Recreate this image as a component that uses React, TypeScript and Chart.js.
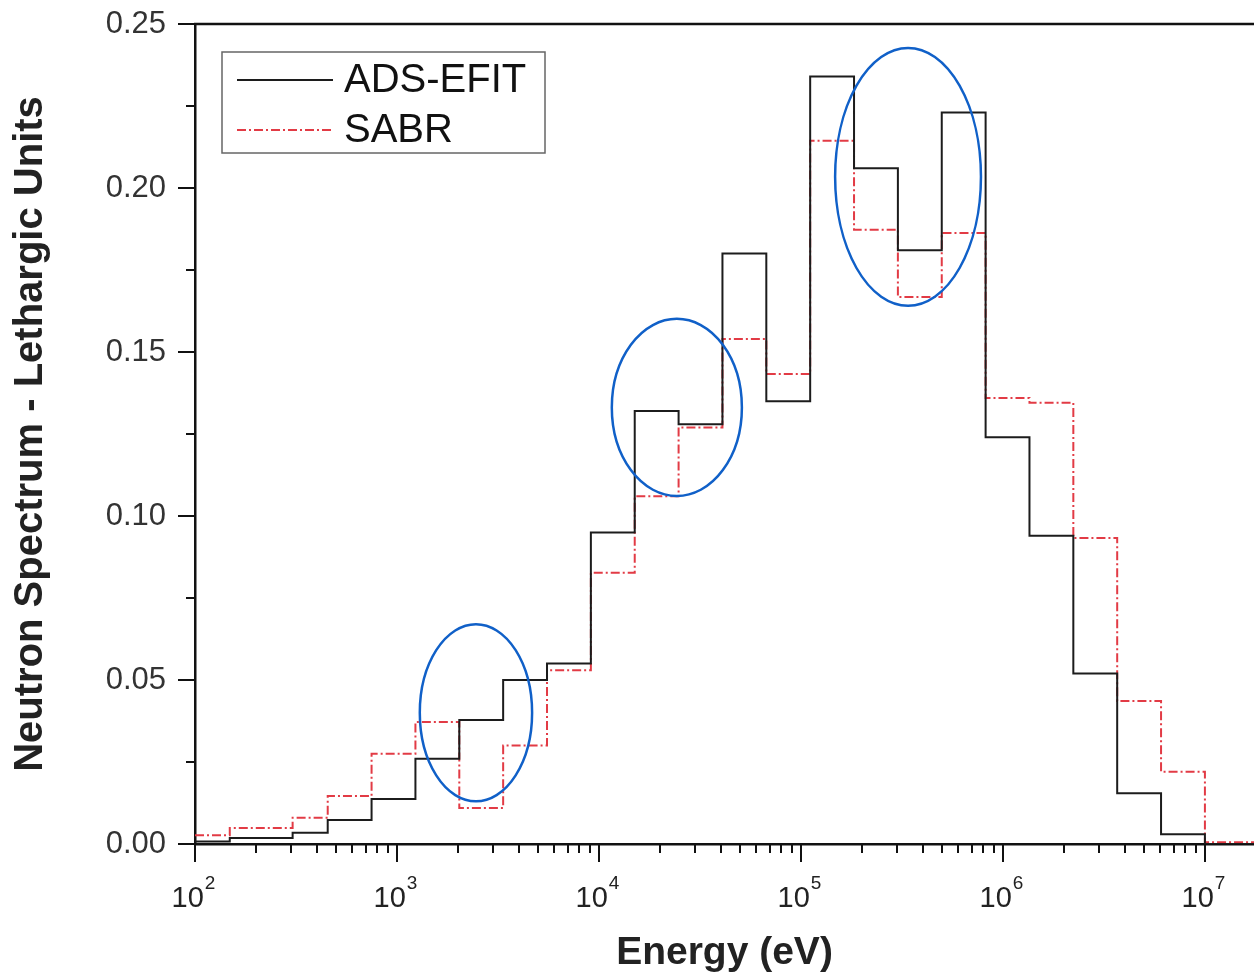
import React, { useEffect, useRef } from "react";
import { Chart, registerables } from "chart.js";

Chart.register(...registerables);

// Group lower boundaries (eV), clipped at the axis minimum; last value is the upper edge
const binEdges = [
  100, 148.63, 304.33, 454.0, 748.52, 1234.1, 2034.7, 3354.6, 5530.8, 9118.8,
  15034, 24788, 40868, 67379, 111090, 183160, 301970, 497870, 820850,
  1353400, 2231300, 3678800, 6065300, 10000000, 19640000,
];

const adsEfit = [
  0.0008, 0.0018, 0.0034, 0.0073, 0.0137, 0.026, 0.0378, 0.050, 0.055, 0.095,
  0.132, 0.128, 0.180, 0.135, 0.234, 0.206, 0.181, 0.223, 0.124, 0.094,
  0.052, 0.0155, 0.003, 0.0, 0.0,
];

const sabr = [
  0.0027, 0.0049, 0.008, 0.0146, 0.0275, 0.0372, 0.011, 0.030, 0.053, 0.0827,
  0.106, 0.127, 0.154, 0.1433, 0.2144, 0.1873, 0.1668, 0.1863, 0.136, 0.1345,
  0.0933, 0.0436, 0.022, 0.0005, 0.0005,
];

const yTickValues = [0, 0.05, 0.1, 0.15, 0.2, 0.25];
const yMinorValues = [0.025, 0.075, 0.125, 0.175, 0.225];
const xDecadeExponents = [2, 3, 4, 5, 6, 7];

// Highlight ellipses: [centre energy, centre value, half-width in decades, half-height in value]
const ellipseCentersE = [2460, 24300, 339000];
const ellipseCentersV = [0.040, 0.1331, 0.2034];
const ellipseHalfDecades = [0.278, 0.322, 0.361];
const ellipseHalfValues = [0.0270, 0.0270, 0.0393];

const FONT = "'Liberation Sans', Arial, Helvetica, sans-serif";

const decorPlugin = {
  id: "decor",
  afterDraw(chart: any) {
    const { ctx, chartArea } = chart;
    const xs = chart.scales.x;
    const ys = chart.scales.y;
    ctx.save();
    // top frame line
    ctx.strokeStyle = "#111";
    ctx.lineWidth = 2.5;
    ctx.beginPath();
    ctx.moveTo(chartArea.left - 1, chartArea.top);
    ctx.lineTo(chartArea.right, chartArea.top);
    ctx.stroke();

    // y ticks
    ctx.lineWidth = 2;
    ctx.beginPath();
    yTickValues.forEach((v) => {
      const y = Math.round(ys.getPixelForValue(v));
      ctx.moveTo(chartArea.left, y);
      ctx.lineTo(chartArea.left - 17, y);
    });
    yMinorValues.forEach((v) => {
      const y = Math.round(ys.getPixelForValue(v));
      ctx.moveTo(chartArea.left, y);
      ctx.lineTo(chartArea.left - 9, y);
    });
    ctx.stroke();

    // x ticks
    const yb = chartArea.bottom;
    ctx.beginPath();
    xDecadeExponents.forEach((e) => {
      const d = Math.pow(10, e);
      const x = Math.round(xs.getPixelForValue(d));
      ctx.moveTo(x, yb);
      ctx.lineTo(x, yb + 18);
      for (let k = 2; k <= 9; k++) {
        const v = k * d;
        if (v > xs.max) break;
        const xm = Math.round(xs.getPixelForValue(v));
        ctx.moveTo(xm, yb);
        ctx.lineTo(xm, yb + 9);
      }
    });
    ctx.stroke();

    // x labels 10^n
    ctx.fillStyle = "#222";
    ctx.textBaseline = "alphabetic";
    ctx.textAlign = "left";
    xDecadeExponents.forEach((e) => {
      const x = xs.getPixelForValue(Math.pow(10, e));
      ctx.font = `29px ${FONT}`;
      const w1 = ctx.measureText("10").width;
      ctx.font = `19px ${FONT}`;
      const exp = String(e);
      const w2 = ctx.measureText(exp).width;
      const start = x - (w1 + w2) / 2 - 2;
      ctx.font = `29px ${FONT}`;
      ctx.fillText("10", start, yb + 63);
      ctx.font = `19px ${FONT}`;
      ctx.fillText(exp, start + w1 + 1, yb + 45);
    });

    // legend
    const lx = chartArea.left + 27;
    const ly = chartArea.top + 28;
    ctx.strokeStyle = "#666";
    ctx.lineWidth = 1.5;
    ctx.strokeRect(lx, ly, 323, 101);
    const ds = chart.data.datasets;
    const rows = [ly + 28, ly + 78];
    ds.forEach((d: any, i: number) => {
      ctx.strokeStyle = d.borderColor;
      ctx.lineWidth = 2;
      ctx.setLineDash(d.borderDash || []);
      ctx.beginPath();
      ctx.moveTo(lx + 15, rows[i]);
      ctx.lineTo(lx + 111, rows[i]);
      ctx.stroke();
      ctx.setLineDash([]);
      ctx.fillStyle = "#111";
      ctx.font = `40px ${FONT}`;
      ctx.textBaseline = "middle";
      ctx.fillText(d.label, lx + 122, rows[i] + 1);
    });

    // ellipses
    ctx.strokeStyle = "#1060c8";
    ctx.lineWidth = 2.5;
    ellipseCentersE.forEach((ce, i) => {
      const cx = xs.getPixelForValue(ce);
      const cy = ys.getPixelForValue(ellipseCentersV[i]);
      const rx = cx - xs.getPixelForValue(ce / Math.pow(10, ellipseHalfDecades[i]));
      const ry = ys.getPixelForValue(ellipseCentersV[i] - ellipseHalfValues[i]) - cy;
      ctx.beginPath();
      ctx.ellipse(cx, cy, rx, ry, 0, 0, Math.PI * 2);
      ctx.stroke();
    });
    ctx.restore();
  },
};

export default function App() {
  const ref = useRef<HTMLCanvasElement | null>(null);
  useEffect(() => {
    if (!ref.current) return;
    const chart = new Chart(ref.current, {
      type: "line",
      data: {
        datasets: [
          {
            label: "ADS-EFIT",
            data: binEdges.map((e, i) => ({ x: e, y: adsEfit[i] })),
            borderColor: "#1c1c1c",
            borderWidth: 2,
            stepped: "before",
            pointRadius: 0,
            fill: false,
          },
          {
            label: "SABR",
            data: binEdges.map((e, i) => ({ x: e, y: sabr[i] })),
            borderColor: "#e23b45",
            borderWidth: 2,
            borderDash: [9, 3, 2, 3],
            stepped: "before",
            pointRadius: 0,
            fill: false,
          },
        ],
      },
      options: {
        animation: false,
        responsive: true,
        maintainAspectRatio: false,
        layout: { padding: { top: 24, right: 0, left: 0, bottom: 0 } },
        plugins: { legend: { display: false }, tooltip: { enabled: false } },
        scales: {
          x: {
            type: "logarithmic",
            min: 100,
            max: 17500000,
            grid: { display: false, drawTicks: false },
            border: { display: true, color: "#111", width: 2.5 },
            ticks: { display: false },
            title: {
              display: true,
              text: "Energy (eV)",
              color: "#222",
              font: { family: FONT, size: 39, weight: "bold" },
              padding: { top: 0, bottom: 0 },
            },
            afterFit: (s: any) => {
              s.height = 133;
              s.paddingLeft = 0;
              s.paddingRight = 0;
            },
          },
          y: {
            type: "linear",
            min: 0,
            max: 0.25,
            grid: { display: false, drawTicks: false },
            border: { display: true, color: "#111", width: 2.5 },
            ticks: {
              stepSize: 0.05,
              padding: 29,
              color: "#333",
              font: { family: FONT, size: 31 },
              callback: (v: any) => Number(v).toFixed(2),
            },
            title: {
              display: true,
              text: "Neutron Spectrum - Lethargic Units",
              color: "#222",
              font: { family: FONT, size: 40, weight: "bold" },
              padding: { top: 7, bottom: 0 },
            },
            afterFit: (s: any) => {
              s.width = 195;
              s.paddingTop = 0;
              s.paddingBottom = 0;
            },
          },
        },
      },
      plugins: [decorPlugin],
    });
    return () => chart.destroy();
  }, []);
  return (
    <div style={{ position: "absolute", left: 0, top: 0, width: 1254, height: 977, background: "#fff" }}>
      <canvas ref={ref} />
    </div>
  );
}
